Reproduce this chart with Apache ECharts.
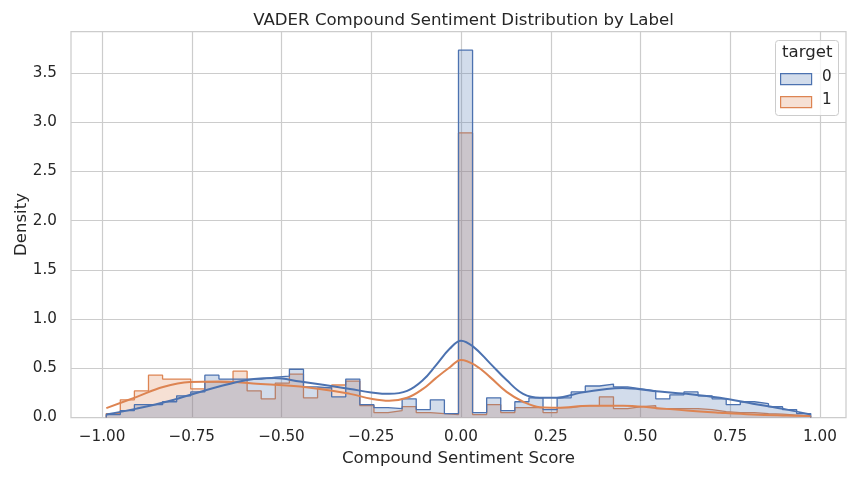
<!DOCTYPE html>
<html>
<head>
<meta charset="utf-8">
<script src="https://cdn.jsdelivr.net/npm/echarts@6/dist/echarts.min.js"></script>
<style>
  html, body { margin: 0; padding: 0; background: #fff; }
  #chart { width: 855px; height: 479px; }
</style>
</head>
<body>
<div id="chart"></div>
<script>
// histogram bins (50 bins, same edges for both labels)
var binStart = -0.9883;
var binWidth = 0.03925;

// density per bin, target = 0
var hist0 = [0.03, 0.07, 0.13, 0.13, 0.16, 0.22, 0.26, 0.43, 0.39, 0.39,
             0.39, 0.41, 0.42, 0.49, 0.31, 0.30, 0.21, 0.39, 0.13, 0.10,
             0.09, 0.19, 0.08, 0.18, 0.04, 3.73, 0.05, 0.20, 0.07, 0.16,
             0.20, 0.08, 0.20, 0.26, 0.32, 0.34, 0.31, 0.29, 0.27, 0.19,
             0.23, 0.26, 0.22, 0.19, 0.13, 0.16, 0.14, 0.11, 0.08, 0.04];
// density per bin, target = 1
var hist1 = [0.04, 0.18, 0.27, 0.43, 0.39, 0.39, 0.29, 0.36, 0.35, 0.47,
             0.27, 0.19, 0.35, 0.44, 0.20, 0.30, 0.33, 0.37, 0.12, 0.05,
             0.07, 0.11, 0.05, 0.04, 0.03, 2.89, 0.03, 0.13, 0.05, 0.10,
             0.10, 0.05, 0.10, 0.12, 0.12, 0.21, 0.09, 0.11, 0.12, 0.09,
             0.09, 0.09, 0.08, 0.06, 0.05, 0.05, 0.04, 0.035, 0.025, 0.015];

// kde curves: [score, density]
var kde0 = [[-0.988, 0.03], [-0.903, 0.09], [-0.81, 0.17], [-0.718, 0.27], [-0.624, 0.36],
            [-0.577, 0.39], [-0.52, 0.40], [-0.448, 0.365], [-0.38, 0.33], [-0.309, 0.29],
            [-0.25, 0.255], [-0.2, 0.24], [-0.15, 0.27], [-0.106, 0.38], [-0.07, 0.53],
            [-0.031, 0.70], [0.0, 0.78], [0.034, 0.72], [0.081, 0.55], [0.127, 0.38],
            [0.173, 0.24], [0.22, 0.20], [0.267, 0.20], [0.331, 0.25], [0.406, 0.29],
            [0.45, 0.30], [0.535, 0.27], [0.629, 0.24], [0.721, 0.20], [0.813, 0.14],
            [0.908, 0.08], [0.974, 0.03]];
var kde1 = [[-0.988, 0.095], [-0.903, 0.21], [-0.83, 0.31], [-0.755, 0.36], [-0.671, 0.366],
            [-0.579, 0.345], [-0.448, 0.315], [-0.309, 0.24], [-0.25, 0.19], [-0.2, 0.17],
            [-0.15, 0.2], [-0.106, 0.29], [-0.07, 0.40], [-0.031, 0.51], [0.0, 0.585], [0.04, 0.53],
            [0.081, 0.41], [0.127, 0.26], [0.173, 0.16], [0.22, 0.105], [0.267, 0.10],
            [0.359, 0.12], [0.451, 0.12], [0.535, 0.10], [0.629, 0.07], [0.721, 0.048],
            [0.813, 0.03], [0.908, 0.02], [0.974, 0.015]];

var xTicks = [-1, -0.75, -0.5, -0.25, 0, 0.25, 0.5, 0.75, 1];
var yTicks = [0, 0.5, 1, 1.5, 2, 2.5, 3, 3.5];

var blue = '#4c72b0';
var orange = '#dd8452';
var txt = '#262626';
var font = 'DejaVu Sans';

// step outline: start at 0, one point per left edge, close back to 0
function stepData(h) {
  var d = [[binStart, 0]];
  for (var i = 0; i < h.length; i++) {
    d.push([binStart + i * binWidth, h[i]]);
  }
  d.push([binStart + h.length * binWidth, h[h.length - 1]]);
  d.push([binStart + h.length * binWidth, 0]);
  return d;
}

function minus(v, n) {
  return (v < 0 ? '\u2212' : '') + Math.abs(v).toFixed(n);
}

var myChart = echarts.init(document.getElementById('chart'));
myChart.setOption({
  animation: false,
  backgroundColor: '#fff',
  title: {
    text: 'VADER Compound Sentiment Distribution by Label',
    left: 458.5,
    top: 7,
    textAlign: 'center',
    textStyle: { fontFamily: font, fontSize: 16.6, fontWeight: 'normal', color: txt }
  },
  grid: {
    left: 71, right: 9, top: 31.5, bottom: 61.5,
    outerBoundsMode: 'none',
    show: true,
    borderColor: '#cccccc',
    borderWidth: 1.25,
    backgroundColor: '#fff'
  },
  xAxis: {
    type: 'value',
    min: -1.0864,
    max: 1.0724,
    name: 'Compound Sentiment Score',
    nameLocation: 'middle',
    nameGap: 33,
    nameMoveOverlap: false,
    nameTextStyle: { fontFamily: font, fontSize: 16.6, color: txt },
    axisLine: { show: false },
    axisTick: { show: false, customValues: xTicks },
    axisLabel: {
      customValues: xTicks,
      margin: 12,
      fontFamily: font, fontSize: 15.2, color: txt,
      formatter: function (v) { return minus(v, 2); }
    },
    splitLine: { show: true, lineStyle: { color: '#cccccc', width: 1.2 } }
  },
  yAxis: {
    type: 'value',
    min: 0,
    max: 3.92,
    name: 'Density',
    nameLocation: 'middle',
    nameGap: 41,
    nameMoveOverlap: false,
    nameTextStyle: { fontFamily: font, fontSize: 16.6, color: txt },
    axisLine: { show: false },
    axisTick: { show: false, customValues: yTicks },
    axisLabel: {
      customValues: yTicks,
      margin: 14,
      fontFamily: font, fontSize: 15.2, color: txt,
      formatter: function (v) { return v.toFixed(1); }
    },
    splitLine: { show: true, lineStyle: { color: '#cccccc', width: 1.2 } }
  },
  series: [
    {
      name: '1', type: 'line', step: 'end', symbol: 'none', z: 2,
      data: stepData(hist1),
      lineStyle: { color: orange, width: 1.3 },
      areaStyle: { color: orange, opacity: 0.25 }
    },
    {
      name: '0', type: 'line', step: 'end', symbol: 'none', z: 3,
      data: stepData(hist0),
      lineStyle: { color: blue, width: 1.3 },
      areaStyle: { color: blue, opacity: 0.25 }
    },
    {
      name: 'kde1', type: 'line', smooth: 0.4, symbol: 'none', z: 4,
      data: kde1,
      lineStyle: { color: orange, width: 2 }
    },
    {
      name: 'kde0', type: 'line', smooth: 0.4, symbol: 'none', z: 5,
      data: kde0,
      lineStyle: { color: blue, width: 2 }
    }
  ],
  // legend box drawn by hand (seaborn style with a title)
  graphic: [
    {
      type: 'rect', left: 775, top: 40, z: 100,
      shape: { width: 63, height: 75, r: 3 },
      style: { fill: 'rgba(255,255,255,0.8)', stroke: '#cccccc', lineWidth: 1 }
    },
    {
      type: 'text', left: 782, top: 44, z: 101,
      style: { text: 'target', fontFamily: font, fontSize: 16.6, fill: txt }
    },
    {
      type: 'rect', left: 780, top: 73, z: 101,
      shape: { width: 31, height: 11 },
      style: { fill: 'rgba(76,114,176,0.25)', stroke: blue, lineWidth: 1.2 }
    },
    {
      type: 'text', left: 822, top: 70, z: 101,
      style: { text: '0', fontFamily: font, fontSize: 15.2, fill: txt }
    },
    {
      type: 'rect', left: 780, top: 96, z: 101,
      shape: { width: 31, height: 11 },
      style: { fill: 'rgba(221,132,82,0.25)', stroke: orange, lineWidth: 1.2 }
    },
    {
      type: 'text', left: 822, top: 93, z: 101,
      style: { text: '1', fontFamily: font, fontSize: 15.2, fill: txt }
    }
  ]
});
</script>
</body>
</html>
